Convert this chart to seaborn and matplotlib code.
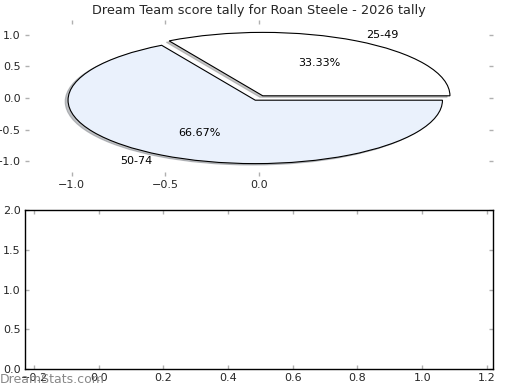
import matplotlib
matplotlib.use('Agg')
import matplotlib.pyplot as plt
import seaborn as sns

labels = ['25-49', '50-74']
counts = [1, 2]
colors = ['#ffffff', '#eaf1fc']
pie_xticks = [-1.0, -0.5, 0.0]
pie_yticks = [-1.0, -0.5, 0.0, 0.5, 1.0]
low_xticks = [-0.2, 0.0, 0.2, 0.4, 0.6, 0.8, 1.0, 1.2]
low_yticks = [0.0, 0.5, 1.0, 1.5, 2.0]

sns.set_theme(style='white')
plt.rcParams['font.family'] = ['DejaVu Sans']

fig = plt.figure(figsize=(5.2, 3.9), dpi=100)
ax1 = fig.add_axes([25 / 520, 1 - 176 / 390, 468 / 520, 156 / 390])
ax2 = fig.add_axes([25 / 520, 1 - 369 / 390, 468 / 520, 159 / 390])

# pie on top axes, kept with ticks
ax1.pie(counts, labels=labels, colors=colors, autopct='%.2f%%', explode=[0.04, 0.04],
        shadow={'ox': -0.011, 'oy': -0.016, 'shade': 0.45}, startangle=0, frame=True,
        wedgeprops={'edgecolor': 'black', 'linewidth': 0.8},
        textprops={'fontsize': 8, 'color': 'black'})
ax1.set_aspect('auto')
ax1.set_xlim(-1.25, 1.25)
ax1.set_ylim(-1.23, 1.23)
ax1.set_xticks(pie_xticks)
ax1.set_yticks(pie_yticks)
for s in ax1.spines.values():
    s.set_visible(False)
ax1.tick_params(direction='in', length=3, width=1, color='#b0b0b0', labelsize=8,
                top=True, right=True, bottom=True, left=True, pad=3)
ax1.set_title('Dream Team score tally for Roan Steele - 2026 tally', fontsize=9.3, pad=4)

# empty lower axes
ax2.set_xlim(-0.228, 1.219)
ax2.set_ylim(0, 2)
ax2.set_xticks(low_xticks)
ax2.set_yticks(low_yticks)
for s in ax2.spines.values():
    s.set_visible(True)
    s.set_color('black')
    s.set_linewidth(1)
ax2.tick_params(direction='in', length=3, width=1, color='#b0b0b0', labelsize=8,
                top=True, right=True, bottom=True, left=True, pad=3)

fig.text(0.0, 0.018, 'DreamStats.com', fontsize=9, color='#888888')

fig.savefig('out.png', dpi=100)
